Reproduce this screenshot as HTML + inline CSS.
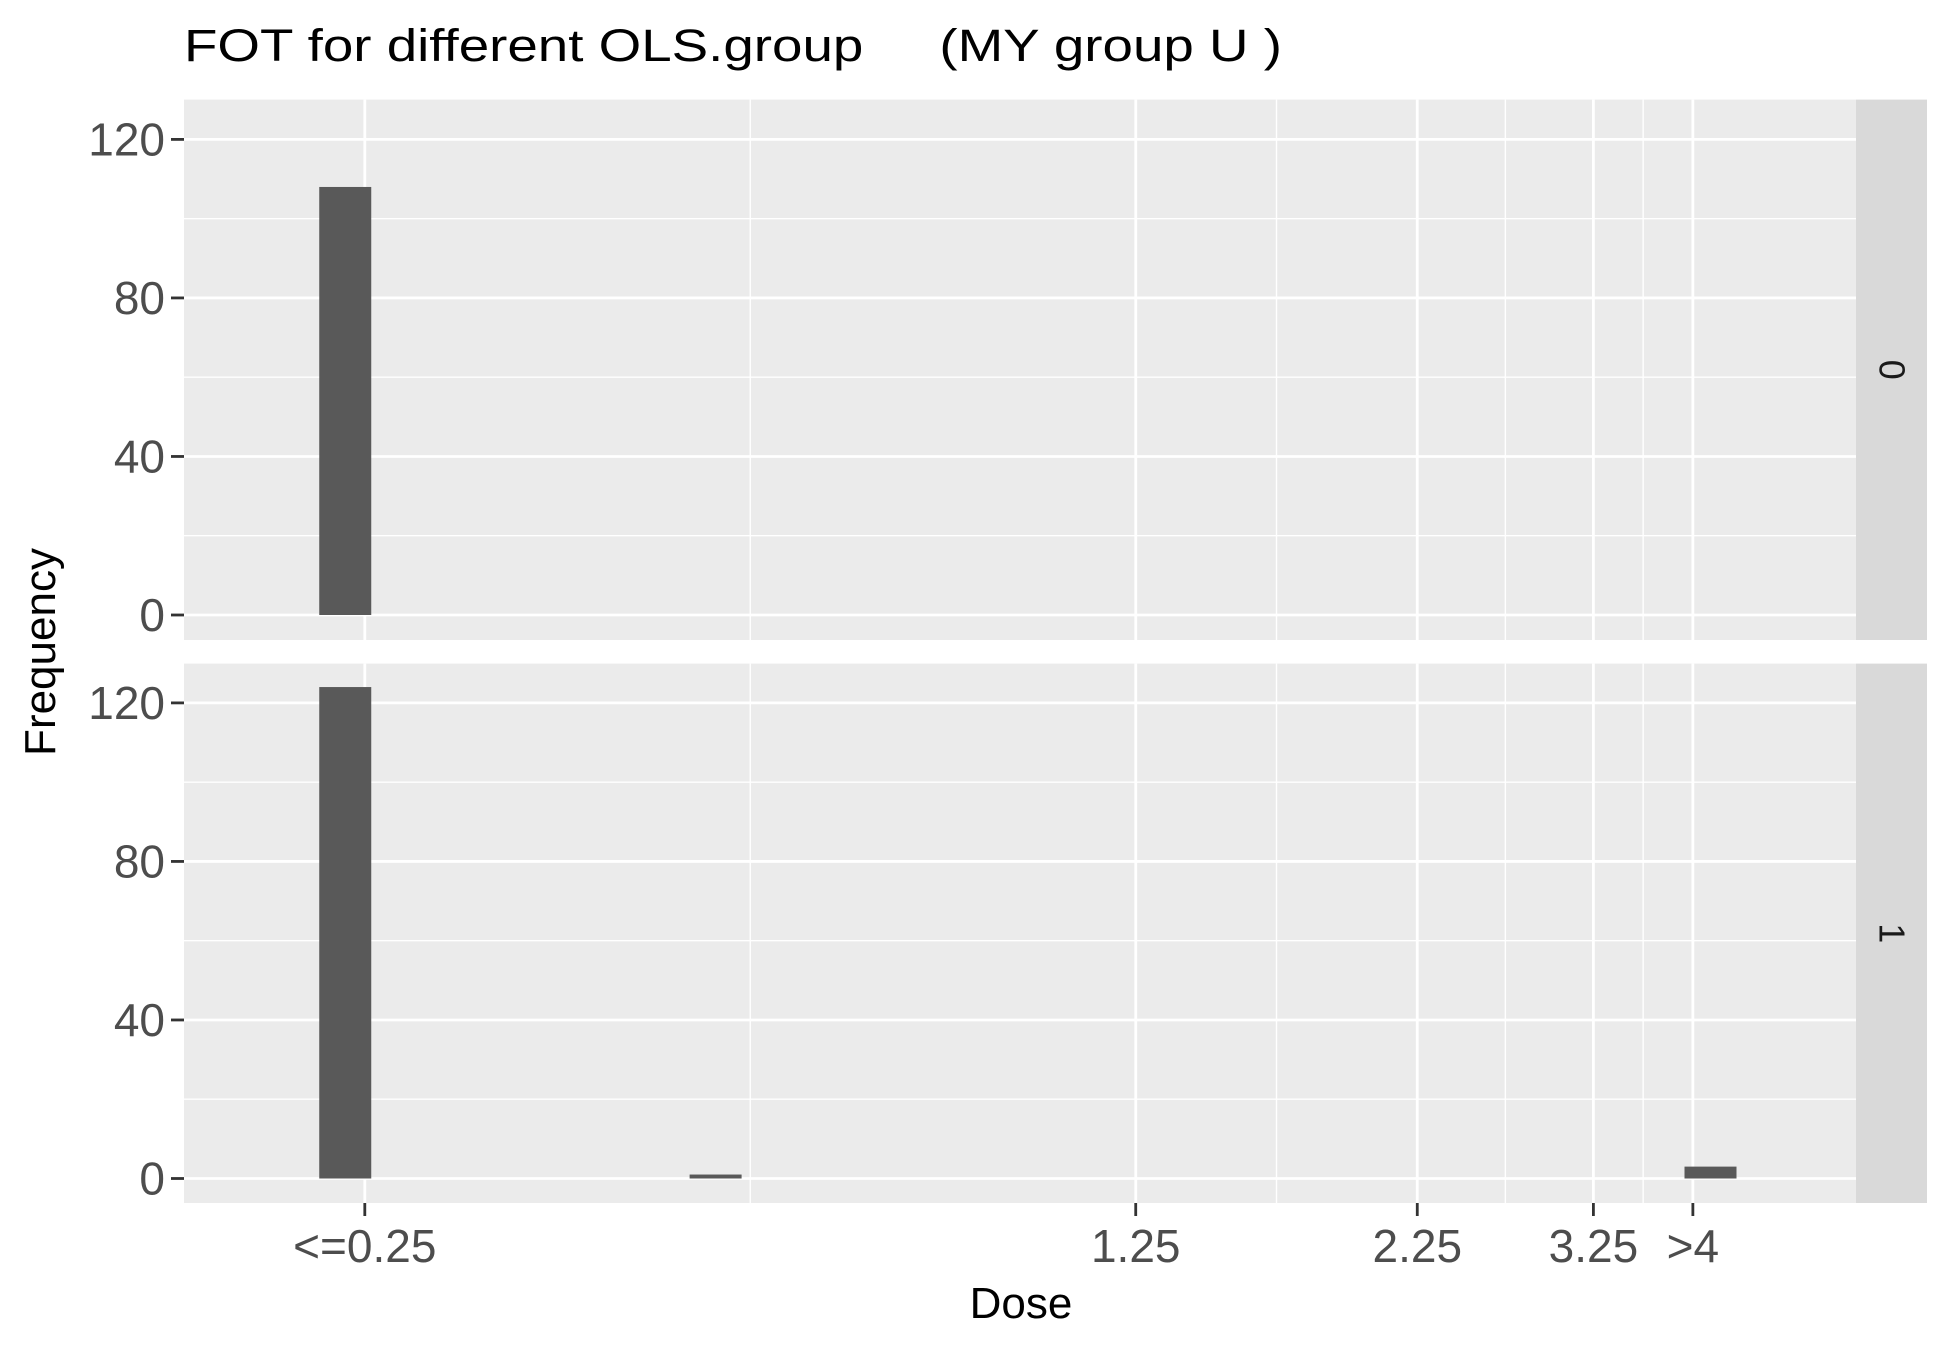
<!DOCTYPE html>
<html><head><meta charset="utf-8"><style>
html,body{margin:0;padding:0;background:#fff;}
svg{display:block;font-family:"Liberation Sans",Arial,sans-serif;}
</style></head><body>
<svg id="chart" width="1950" height="1349" viewBox="0 0 1950 1349">
<text x="184" y="61" font-size="45" fill="#000" style="white-space:pre" xml:space="preserve" textLength="1098" lengthAdjust="spacingAndGlyphs">FOT for different OLS.group     (MY group U )</text>
<text transform="translate(55,652) rotate(-90)" text-anchor="middle" font-size="44" fill="#000">Frequency</text>
<text x="1021" y="1318" text-anchor="middle" font-size="44" fill="#000">Dose</text>
<g id="panels"></g>
</svg>
<script>
const facets = ["0", "1"];
const doses = [0.24, 0.52, 4.15];
const counts0 = [108, 0, 0];
const counts1 = [124, 1, 3];
const yTicks = [0, 40, 80, 120];
const yMinor = [20, 60, 100];
const xTickVals = [0.25, 1.25, 2.25, 3.25, 4];
const xTickLabels = ["<=0.25", "1.25", "2.25", "3.25", ">4"];

const NS = "http://www.w3.org/2000/svg";
const svg = document.getElementById("panels");
const PL = 184, PR = 1856, SR = 1927;
const panelsGeom = [{top: 99.6, bottom: 640, y0: 615}, {top: 663.6, bottom: 1203, y0: 1178.5}];
const PXU = 475.6 / 120;
const LOG0 = Math.log(0.25), XS = 364.8, XK = 479;
function xScale(v){ return XS + XK * (Math.log(v) - LOG0); }
function yScale(v, p){ return p.y0 - v * PXU; }
const BW = 52;
function mk(tag, attrs){ const e = document.createElementNS(NS, tag); for (const k in attrs) e.setAttribute(k, attrs[k]); return e; }

const xMinor = [];
for (let i = 0; i < xTickVals.length - 1; i++) xMinor.push(Math.sqrt(xTickVals[i] * xTickVals[i+1]));

panelsGeom.forEach((p, pi) => {
  const g = mk("g", {});
  
  
  svg.appendChild(g);
  const bg = mk("rect", {x: PL, y: p.top, width: PR - PL, height: p.bottom - p.top, fill: "#ebebeb"});
  
  
  g.appendChild(bg);
  yMinor.forEach(v => { const l = mk("line", {x1: PL, x2: PR, y1: yScale(v, p), y2: yScale(v, p), stroke: "#fff", "stroke-width": 1.4});
    
    
    g.appendChild(l); });
  xMinor.forEach(v => { const l = mk("line", {x1: xScale(v), x2: xScale(v), y1: p.top, y2: p.bottom, stroke: "#fff", "stroke-width": 1.4});
    
    
    g.appendChild(l); });
  yTicks.forEach(v => { const y = yScale(v, p);
    const l = mk("line", {x1: PL, x2: PR, y1: y, y2: y, stroke: "#fff", "stroke-width": 2.8});
    
    
    g.appendChild(l);
    const t = mk("line", {x1: PL - 13, x2: PL, y1: y, y2: y, stroke: "#333", "stroke-width": 2.8});
    
    
    g.appendChild(t);
    const tx = mk("text", {x: PL - 19, y: y + 16, "text-anchor": "end", "font-size": 46, fill: "#4d4d4d"});
    tx.textContent = v;
    
    
    g.appendChild(tx); });
  xTickVals.forEach(v => { const l = mk("line", {x1: xScale(v), x2: xScale(v), y1: p.top, y2: p.bottom, stroke: "#fff", "stroke-width": 2.8});
    
    
    g.appendChild(l); });
  const counts = pi === 0 ? counts0 : counts1;
  doses.forEach((d, i) => { if (counts[i] <= 0) return;
    const cx = xScale(d), y = yScale(counts[i], p);
    const r = mk("rect", {x: cx - BW/2, y: y, width: BW, height: p.y0 - y, fill: "#595959"});
    
    
    g.appendChild(r); });
  const st = mk("rect", {x: PR, y: p.top, width: SR - PR, height: p.bottom - p.top, fill: "#d9d9d9"});
  
  
  g.appendChild(st);
  const cy = (p.top + p.bottom) / 2, cxs = (PR + SR) / 2;
  const sl = mk("text", {x: 0, y: 0, transform: `translate(${cxs - 12},${cy}) rotate(90)`, "text-anchor": "middle", "font-size": 36, fill: "#1a1a1a"});
  sl.textContent = facets[pi];
  
  
  g.appendChild(sl);
});
const pb = panelsGeom[1].bottom;
xTickVals.forEach((v, i) => {
  const t = mk("line", {x1: xScale(v), x2: xScale(v), y1: pb, y2: pb + 13, stroke: "#333", "stroke-width": 2.8});
  
  
  svg.appendChild(t);
  const tx = mk("text", {x: xScale(v), y: pb + 59, "text-anchor": "middle", "font-size": 46, fill: "#4d4d4d"});
  tx.textContent = xTickLabels[i];
  
  
  svg.appendChild(tx);
});
</script>
</body></html>
